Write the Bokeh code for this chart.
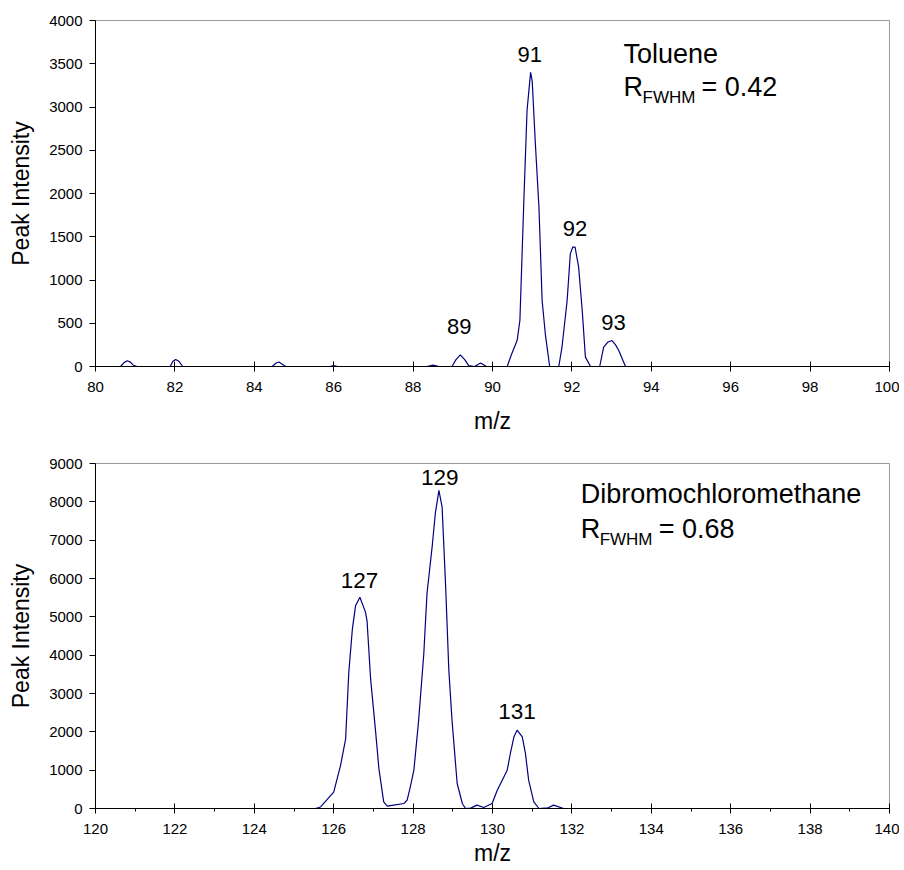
from bokeh.plotting import figure
from bokeh.layouts import column
from bokeh.models import Range1d, Label, SingleIntervalTicker, ColumnDataSource
from bokeh.core.properties import value
from bokeh.embed import file_html
from bokeh.resources import INLINE

# ---------------- data ----------------
# Toluene spectrum (m/z, intensity)
tol_mz = [80.0, 80.63, 80.72, 80.80, 80.88, 80.95, 81.05, 81.88, 81.95, 82.02, 82.10, 82.20,
          84.45, 84.55, 84.62, 84.72, 84.80, 85.90, 86.00, 86.10, 88.35, 88.50, 88.65,
          88.98, 89.08, 89.19, 89.30, 89.40, 89.55, 89.70, 89.85,
          90.37, 90.47, 90.62, 90.69, 90.79, 90.87, 90.96, 91.00, 91.08, 91.17, 91.25, 91.33, 91.44,
          91.67, 91.75, 91.88, 91.96, 92.02, 92.08, 92.17, 92.26, 92.34, 92.47,
          92.70, 92.80, 92.90, 93.01, 93.10, 93.18, 93.35, 100.0]
tol_int = [0, 0, 45, 66, 50, 15, 0, 0, 60, 80, 60, 0,
           0, 40, 52, 20, 0, 0, 10, 0, 0, 15, 0,
           0, 80, 135, 80, 10, 0, 40, 0,
           0, 130, 300, 532, 1919, 2960, 3400, 3300, 2574, 1842, 763, 378, 0,
           0, 223, 763, 1302, 1379, 1379, 1148, 648, 108, 0,
           0, 223, 280, 300, 250, 185, 0, 0]
tol_lbl = ["89", "91", "92", "93"]
tol_lbl_mz = [89.16, 90.94, 92.08, 93.05]
tol_lbl_int = [457, 3612, 1590, 514]

# Dibromochloromethane spectrum
dbc_mz = [120.0, 125.54, 125.67, 126.00, 126.17, 126.30, 126.38, 126.47, 126.55, 126.66, 126.80, 126.84,
          126.93, 127.05, 127.14, 127.26, 127.35, 127.51, 127.77, 127.85,
          127.93, 128.02, 128.14, 128.27, 128.35, 128.48, 128.56, 128.65, 128.73, 128.82, 128.90, 128.98,
          129.11, 129.24, 129.32, 129.45, 129.61, 129.78,
          129.99, 130.12, 130.37, 130.45, 130.54, 130.62, 130.75, 130.83, 130.91, 131.04, 131.17,
          131.40, 131.54, 131.79, 140.0]
dbc_int = [0, 0, 40, 426, 1113, 1809, 3548, 4678, 5287, 5513, 5122, 4896,
           3374, 2070, 1026, 174, 60, 87, 130, 217,
           565, 1000, 2305, 4045, 5610, 6827, 7697, 8297, 7871, 5784, 3610, 2305,
           652, 130, 0, 10, 87, 26,
           130, 478, 1000, 1435, 1870, 2044, 1870, 1435, 739, 174, 0,
           20, 87, 0, 0]
dbc_lbl = ["127", "129", "131"]
dbc_lbl_mz = [126.65, 128.67, 130.62]
dbc_lbl_int = [5948, 8644, 2531]

FONT = "Liberation Sans"
LINE = "#000080"


def make_fig(xr, yr, ystep, minor, fh, mb_top, mb_bottom, lbl_standoff):
    p = figure(frame_width=794, frame_height=fh,
               x_range=Range1d(*xr), y_range=Range1d(*yr),
               output_backend="svg", toolbar_location=None,
               min_border_left=95, min_border_right=10,
               min_border_top=mb_top, min_border_bottom=mb_bottom)
    p.xgrid.visible = False
    p.ygrid.visible = False
    p.outline_line_color = "#999999"
    p.outline_line_width = 1
    p.background_fill_color = "white"
    p.border_fill_color = "white"

    p.xaxis.ticker = SingleIntervalTicker(interval=2, num_minor_ticks=2 if minor else 0)
    p.yaxis.ticker = SingleIntervalTicker(interval=ystep, num_minor_ticks=0)

    for ax in (p.xaxis[0], p.yaxis[0]):
        ax.axis_line_color = "black"
        ax.axis_line_width = 1
        ax.major_tick_line_color = "black"
        ax.minor_tick_line_color = "black"
        ax.major_label_text_font = FONT
        ax.major_label_text_font_size = "15px"
        ax.major_label_text_color = "black"
        ax.axis_label_text_font = FONT
        ax.axis_label_text_font_size = "23px"
        ax.axis_label_text_font_style = "normal"
        ax.axis_label_text_color = "black"

    p.xaxis.major_tick_in = 5
    p.xaxis.major_tick_out = 5
    p.xaxis.minor_tick_in = 0
    p.xaxis.minor_tick_out = 3
    p.xaxis.major_label_standoff = 10
    p.xaxis.axis_label_standoff = lbl_standoff
    p.xaxis.axis_label = "m/z"

    p.yaxis.major_tick_in = 0
    p.yaxis.major_tick_out = 6
    p.yaxis.minor_tick_in = 0
    p.yaxis.minor_tick_out = 0
    p.yaxis.major_label_standoff = 7
    p.yaxis.axis_label_standoff = 12
    p.yaxis.axis_label = "Peak Intensity"
    return p


def add_note(p, x, y1, y2, name, rval):
    common = dict(text_font=FONT, text_color="black", text_baseline="alphabetic")
    p.add_layout(Label(x=x, y=y1, y_offset=8, text=name, text_font_size="27px", **common))
    p.add_layout(Label(x=x, y=y2, y_offset=8, text="R", text_font_size="27px", **common))
    p.add_layout(Label(x=x, y=y2, x_offset=19, y_offset=-2, text="FWHM",
                       text_font_size="17px", **common))
    p.add_layout(Label(x=x, y=y2, x_offset=78, y_offset=8, text="= " + rval,
                       text_font_size="27px", **common))


# ---------------- top: Toluene ----------------
p1 = make_fig((80, 100), (0, 4000), 500, False, 346, 20, 72, 13)
p1.line(tol_mz, tol_int, line_color=LINE, line_width=1.2)
src1 = ColumnDataSource(dict(x=tol_lbl_mz, y=tol_lbl_int, t=tol_lbl))
p1.text(x="x", y="y", text="t", source=src1, text_font=value(FONT),
        text_font_size="22px", text_align="center", text_baseline="middle",
        text_color="black")
add_note(p1, 93.30, 3518, 3133, "Toluene", "0.42")

# ---------------- bottom: Dibromochloromethane ----------------
p2 = make_fig((120, 140), (0, 9000), 1000, True, 345, 25, 61, 3)
p2.line(dbc_mz, dbc_int, line_color=LINE, line_width=1.2)
src2 = ColumnDataSource(dict(x=dbc_lbl_mz, y=dbc_lbl_int, t=dbc_lbl))
p2.text(x="x", y="y", text="t", source=src2, text_font=value(FONT),
        text_font_size="22.5px", text_align="center", text_baseline="middle",
        text_color="black")
add_note(p2, 132.22, 7984, 7070, "Dibromochloromethane", "0.68")

layout = column(p1, p2, spacing=0)
open("out.html", "w").write(file_html(layout, INLINE))
